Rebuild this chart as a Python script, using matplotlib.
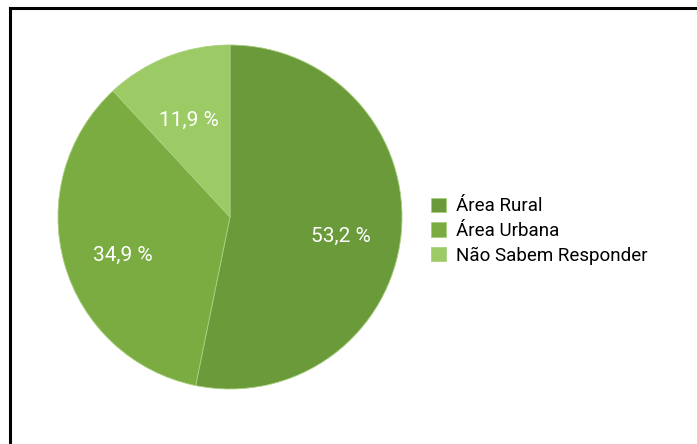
import matplotlib.pyplot as plt
from matplotlib.lines import Line2D

labels = ["Área Rural", "Área Urbana", "Não Sabem Responder"]
values = [53.2, 34.9, 11.9]
colors = ["#6a9a3a", "#7aac42", "#9ccb65"]

plt.rcParams["font.family"] = ["Roboto", "DejaVu Sans"]

fig = plt.figure(figsize=(6.97, 4.44), dpi=100)

# frame (top and left edges visible)
fig.add_artist(Line2D([0.0145, 0.0145], [0, 0.982], color="black", lw=2.2, transform=fig.transFigure))
fig.add_artist(Line2D([0.0145, 1.0], [0.982, 0.982], color="black", lw=2.2, transform=fig.transFigure))

ax = fig.add_axes([(230 - 172) / 697, 1 - (217 + 172) / 444, 344 / 697, 344 / 444])
wedges, texts, autotexts = ax.pie(
    values,
    colors=colors,
    startangle=90,
    counterclock=False,
    autopct=lambda p: f"{p:.1f} %".replace(".", ","),
    pctdistance=0.65,
    wedgeprops=dict(linewidth=0.6, edgecolor="#a9cf80"),
    textprops=dict(color="white", fontsize=15),
)
# labels sit a little below the wedge mid-line, like the original
for t in autotexts:
    x, y = t.get_position()
    t.set_position((x, y - 0.045))
ax.set_xlim(-1, 1)
ax.set_ylim(-1, 1)
ax.set_aspect("equal")

fig.legend(
    wedges, labels,
    loc="center left",
    bbox_to_anchor=(414 / 697, 1 - 231 / 444),
    frameon=False,
    fontsize=13.5,
    handlelength=0.8,
    handleheight=0.8,
    handletextpad=0.55,
    labelspacing=0.35,
)

fig.savefig("out.png", dpi=100)
